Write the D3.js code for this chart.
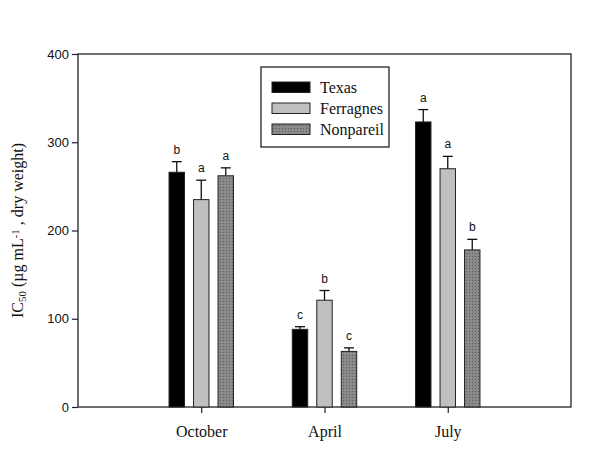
<!DOCTYPE html>
<html>
<head>
<meta charset="utf-8">
<script src="https://cdn.jsdelivr.net/npm/d3@7"></script>
<style>
  body { margin: 0; background: #fff; }
</style>
</head>
<body>
<script>
// data
var months = ['October', 'April', 'July'];
var series = ['Texas', 'Ferragnes', 'Nonpareil'];
var texas = [266, 88, 323];
var ferragnes = [235, 121, 270];
var nonpareil = [262, 63, 178];
var texasErr = [12, 3, 14];
var ferragnesErr = [22, 11, 14];
var nonpareilErr = [9, 4, 12];
var texasLetters = ['b', 'c', 'a'];
var ferragnesLetters = ['a', 'b', 'a'];
var nonpareilLetters = ['a', 'c', 'b'];
var yTicks = [0, 100, 200, 300, 400];

var w = 600, h = 457;
// plot frame (window.top is reserved, so prefixed names)
var pLeft = 78, pRight = 571, pTop = 54, pBottom = 407;

var svg = d3.select('body').append('svg')
    .attr('width', w)
    .attr('height', h);

// dotted fill for Nonpareil
var pat = svg.append('defs').append('pattern')
    .attr('id', 'dots')
    .attr('patternUnits', 'userSpaceOnUse')
    .attr('width', 3)
    .attr('height', 3);
pat.append('rect').attr('width', 3).attr('height', 3).attr('fill', '#8a8a8a');
pat.append('rect').attr('x', 1).attr('y', 1).attr('width', 1).attr('height', 1).attr('fill', '#5a5a5a');

var x = d3.scalePoint().domain(months).range([pLeft, pRight]).padding(1);
var xs = d3.scaleBand().domain(series).range([-36.75, 36.75])
    .paddingInner(0.37).paddingOuter(0.185);
var y = d3.scaleLinear().domain([0, 400]).range([pBottom, pTop]);

var fills = { Texas: '#000', Ferragnes: '#c0c0c0', Nonpareil: 'url(#dots)' };
var vals = { Texas: texas, Ferragnes: ferragnes, Nonpareil: nonpareil };
var errs = { Texas: texasErr, Ferragnes: ferragnesErr, Nonpareil: nonpareilErr };
var letters = { Texas: texasLetters, Ferragnes: ferragnesLetters, Nonpareil: nonpareilLetters };

var rows = [];
series.forEach(function (s) {
  months.forEach(function (m, i) {
    rows.push({ s: s, m: m, v: vals[s][i], e: errs[s][i], l: letters[s][i] });
  });
});

// frame
svg.append('rect')
    .attr('x', pLeft).attr('y', pTop)
    .attr('width', pRight - pLeft).attr('height', pBottom - pTop)
    .attr('fill', 'none').attr('stroke', '#222').attr('stroke-width', 1.3);

// error bars
var eb = svg.append('g').attr('stroke', '#111').attr('stroke-width', 1.3);
eb.selectAll('line.v').data(rows).enter().append('line')
    .attr('x1', d => x(d.m) + xs(d.s) + xs.bandwidth() / 2)
    .attr('x2', d => x(d.m) + xs(d.s) + xs.bandwidth() / 2)
    .attr('y1', d => y(d.v))
    .attr('y2', d => y(d.v + d.e));
eb.selectAll('line.c').data(rows).enter().append('line')
    .attr('x1', d => x(d.m) + xs(d.s) + xs.bandwidth() / 2 - 5)
    .attr('x2', d => x(d.m) + xs(d.s) + xs.bandwidth() / 2 + 5)
    .attr('y1', d => y(d.v + d.e))
    .attr('y2', d => y(d.v + d.e));

// bars
svg.selectAll('rect.bar').data(rows).enter().append('rect')
    .attr('class', 'bar')
    .attr('x', d => x(d.m) + xs(d.s))
    .attr('y', d => y(d.v))
    .attr('width', xs.bandwidth())
    .attr('height', d => y(0) - y(d.v))
    .attr('fill', d => fills[d.s])
    .attr('stroke', '#222')
    .attr('stroke-width', 1);

// significance letters
svg.selectAll('text.lt').data(rows).enter().append('text')
    .attr('x', d => x(d.m) + xs(d.s) + xs.bandwidth() / 2)
    .attr('y', d => y(d.v + d.e) - 8)
    .attr('text-anchor', 'middle')
    .attr('font-family', 'Liberation Sans, Arial, sans-serif')
    .attr('font-size', '12px')
    .attr('fill', '#111')
    .text(d => d.l);

// axes
var yAxis = svg.append('g')
    .attr('transform', 'translate(' + pLeft + ',0)')
    .call(d3.axisLeft(y).tickValues(yTicks).tickSize(6).tickPadding(3));
var xAxis = svg.append('g')
    .attr('transform', 'translate(0,' + pBottom + ')')
    .call(d3.axisBottom(x).tickSize(6).tickPadding(13));
[yAxis, xAxis].forEach(function (g) {
  g.select('.domain').remove();
  g.selectAll('line').attr('stroke', '#222').attr('stroke-width', 1.2);
});
yAxis.selectAll('text')
    .attr('font-family', 'Liberation Sans, Arial, sans-serif')
    .attr('font-size', '13px')
    .attr('fill', '#111');
xAxis.selectAll('text')
    .attr('font-family', 'Liberation Serif, Times New Roman, serif')
    .attr('font-size', '16px')
    .attr('fill', '#111');

// y title
var yt = svg.append('text')
    .attr('transform', 'translate(23,' + ((pTop + pBottom) / 2) + ') rotate(-90)')
    .attr('text-anchor', 'middle')
    .attr('font-family', 'Liberation Serif, Times New Roman, serif')
    .attr('font-size', '16px')
    .attr('fill', '#111');
yt.append('tspan').text('IC');
yt.append('tspan').attr('baseline-shift', '-25%').attr('font-size', '11px').text('50');
yt.append('tspan').text(' (\u00b5g mL');
yt.append('tspan').attr('baseline-shift', '40%').attr('font-size', '11px').text('-1');
yt.append('tspan').text(' , dry weight)');

// legend
var lg = svg.append('g');
lg.append('rect')
    .attr('x', 261).attr('y', 67).attr('width', 128).attr('height', 80)
    .attr('fill', '#fff').attr('stroke', '#222').attr('stroke-width', 1.3);
var li = lg.selectAll('g.item').data(series).enter().append('g')
    .attr('transform', (d, i) => 'translate(272,' + (82 + i * 21) + ')');
li.append('rect')
    .attr('width', 38).attr('height', 10.5)
    .attr('fill', d => fills[d])
    .attr('stroke', '#222').attr('stroke-width', 1);
li.append('text')
    .attr('x', 48).attr('y', 10.5)
    .attr('font-family', 'Liberation Serif, Times New Roman, serif')
    .attr('font-size', '16px')
    .attr('fill', '#111')
    .text(d => d);
</script>
</body>
</html>
